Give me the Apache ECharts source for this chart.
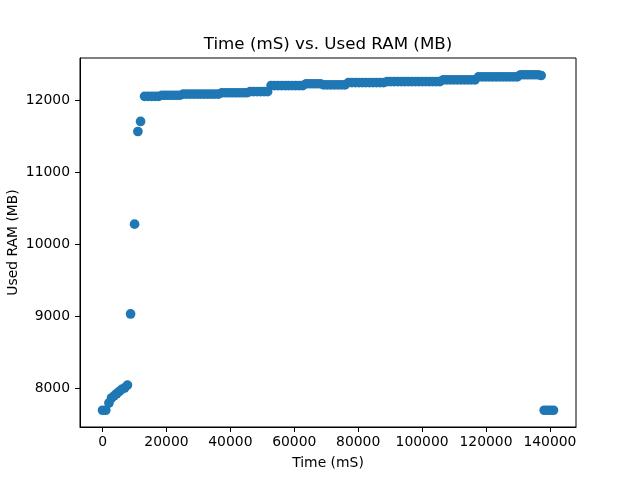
<!DOCTYPE html>
<html>
<head>
<meta charset="utf-8">
<script src="https://cdn.jsdelivr.net/npm/echarts@6/dist/echarts.min.js"></script>
<style>
  html, body { margin: 0; padding: 0; background: #fff; }
  #chart { width: 640px; height: 480px; }
</style>
</head>
<body>
<div id="chart"></div>
<script>
// time (mS) of each sample
const timeMs = [
  0, 1000, 2000, 2800, 3600, 4400, 5200, 6000, 6900, 7800, 8770, 10020, 11060, 11900,
  13150, 14250, 15350, 16450, 17550, 18650, 19750, 20850, 21950, 23050, 24150,
  25250, 26350, 27450, 28550, 29650, 30750, 31850, 32950, 34050, 35150, 36250,
  37350, 38450, 39550, 40650, 41750, 42850, 43950, 45050,
  46150, 47250, 48350, 49450, 50550, 51650,
  52750, 53850, 54950, 56050, 57150, 58250, 59350, 60450, 61550, 62650,
  63750, 64850, 65950, 67050, 68150,
  69250, 70350, 71450, 72550, 73650, 74750, 75850,
  76950, 78050, 79150, 80250, 81350, 82450, 83550, 84650, 85750, 86850, 87950,
  89050, 90150, 91250, 92350, 93450, 94550, 95650, 96750, 97850, 98950, 100050,
  101150, 102250, 103350, 104450, 105550,
  106650, 107750, 108850, 109950, 111050, 112150, 113250, 114350, 115450, 116550,
  117650, 118750, 119850, 120950, 122050, 123150, 124250, 125350, 126450, 127550,
  128650, 129750,
  130850, 131950, 133050, 134150, 135250, 136350, 137250,
  138200, 139200, 140200, 141100
];

// used RAM (MB) for each sample
const usedRamMb = [
  7690, 7690, 7790, 7860, 7890, 7920, 7950, 7980, 8000, 8040, 9030, 10280, 11570, 11710,
  12060, 12060, 12060, 12060, 12060, 12075, 12075, 12075, 12075, 12075, 12075,
  12090, 12090, 12090, 12090, 12090, 12090, 12090, 12090, 12090, 12090, 12090,
  12110, 12110, 12110, 12110, 12110, 12110, 12110, 12110,
  12125, 12125, 12125, 12125, 12125, 12125,
  12210, 12210, 12210, 12210, 12210, 12210, 12210, 12210, 12210, 12210,
  12235, 12235, 12235, 12235, 12235,
  12220, 12220, 12220, 12220, 12220, 12220, 12220,
  12250, 12250, 12250, 12250, 12250, 12250, 12250, 12250, 12250, 12250, 12250,
  12265, 12265, 12265, 12265, 12265, 12265, 12265, 12265, 12265, 12265, 12265,
  12265, 12265, 12265, 12265, 12265,
  12290, 12290, 12290, 12290, 12290, 12290, 12290, 12290, 12290, 12290,
  12330, 12330, 12330, 12330, 12330, 12330, 12330, 12330, 12330, 12330,
  12330, 12330,
  12360, 12360, 12360, 12360, 12360, 12360, 12350,
  7690, 7690, 7690, 7690
];

const xTicks = [0, 20000, 40000, 60000, 80000, 100000, 120000, 140000];
const yTicks = [8000, 9000, 10000, 11000, 12000];

const points = timeMs.map((t, i) => [t, usedRamMb[i]]);

// matplotlib style 5% margins around the data
const xMinData = Math.min(...timeMs), xMaxData = Math.max(...timeMs);
const yMinData = Math.min(...usedRamMb), yMaxData = Math.max(...usedRamMb);
const xPad = (xMaxData - xMinData) * 0.05;
const yPad = (yMaxData - yMinData) * 0.05;

const font = 'DejaVu Sans';

const chart = echarts.init(document.getElementById('chart'), null, { renderer: 'canvas' });

chart.setOption({
  animation: false,
  backgroundColor: '#fff',
  title: {
    text: 'Time (mS) vs. Used RAM (MB)',
    left: 328,
    top: 36,
    padding: 0,
    textAlign: 'center',
    textStyle: { fontFamily: font, fontSize: 16.7, fontWeight: 'normal', color: '#000' }
  },
  grid: {
    left: 80, right: 64, top: 58, bottom: 53,
    outerBoundsMode: 'none',
    containLabel: false,
    show: true, borderColor: '#000', borderWidth: 1, backgroundColor: 'transparent'
  },
  xAxis: {
    type: 'value',
    min: xMinData - xPad,
    max: xMaxData + xPad,
    name: 'Time (mS)',
    nameLocation: 'middle',
    nameGap: 29,
    nameMoveOverlap: false,
    nameTextStyle: { fontFamily: font, fontSize: 13.9, color: '#000' },
    axisLine: { show: true, onZero: false, lineStyle: { color: '#000', width: 1 } },
    axisTick: { show: true, length: 5, customValues: xTicks, lineStyle: { color: '#000' } },
    axisLabel: {
      customValues: xTicks, margin: 8,
      fontFamily: font, fontSize: 13.9, color: '#000',
      formatter: v => String(v)
    },
    splitLine: { show: false }
  },
  yAxis: {
    type: 'value',
    min: yMinData - yPad,
    max: yMaxData + yPad,
    name: 'Used RAM (MB)',
    nameLocation: 'middle',
    nameGap: 60,
    nameMoveOverlap: false,
    nameTextStyle: { fontFamily: font, fontSize: 13.9, color: '#000' },
    axisLine: { show: true, onZero: false, lineStyle: { color: '#000', width: 1 } },
    axisTick: { show: true, length: 5, customValues: yTicks, lineStyle: { color: '#000' } },
    axisLabel: {
      customValues: yTicks, margin: 10,
      fontFamily: font, fontSize: 13.9, color: '#000',
      formatter: v => String(v)
    },
    splitLine: { show: false }
  },
  series: [{
    type: 'scatter',
    data: points,
    symbol: 'circle',
    symbolSize: 9.7,
    itemStyle: { color: '#1f77b4', opacity: 1 }
  }]
});
</script>
</body>
</html>
